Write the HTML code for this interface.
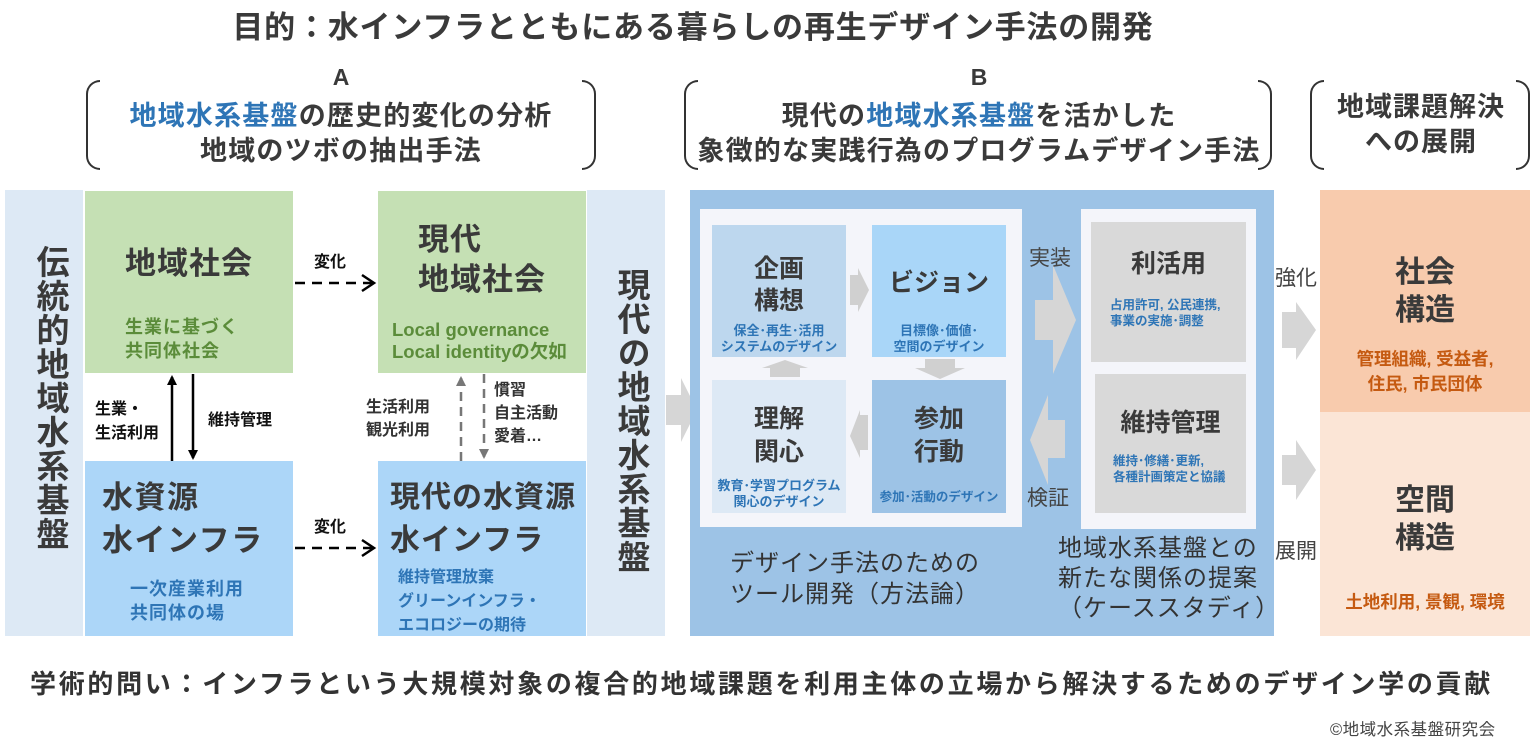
<!DOCTYPE html>
<html><head><meta charset="utf-8"><style>
*{margin:0;padding:0;box-sizing:border-box}
body{width:1536px;height:749px;background:#fff;position:relative;overflow:hidden;font-family:"Liberation Sans","Noto Sans CJK JP",sans-serif;color:#3a3a3a;font-weight:bold}
div{position:absolute}
.c{text-align:center;white-space:nowrap}
.n{white-space:nowrap}
.bl{border:2px solid #333;border-right:none;border-radius:14px 0 0 14px;width:14px}
.br{border:2px solid #333;border-left:none;border-radius:0 14px 14px 0;width:14px}
.v{writing-mode:vertical-rl;text-orientation:upright;font-size:33px;letter-spacing:1px}
.blue{color:#2e75b6}
.green{color:#5b8c3a}
.or{color:#c55a11}
</style></head><body>
<div class="c" style="left:0;width:1386px;top:8px;font-size:31px;letter-spacing:0.8px;line-height:40px">目的：水インフラとともにある暮らしの再生デザイン手法の開発</div>

<!-- brackets -->
<div class="bl" style="left:86px;top:80px;height:90px"></div>
<div class="br" style="left:582px;top:80px;height:90px"></div>
<div class="c" style="left:86px;width:510px;top:64px;font-size:23px">A</div>
<div class="c" style="left:86px;width:510px;top:99px;font-size:27px;letter-spacing:1.2px;line-height:35px"><span class="blue">地域水系基盤</span>の歴史的変化の分析<br>地域のツボの抽出手法</div>

<div class="bl" style="left:684px;top:80px;height:90px"></div>
<div class="br" style="left:1258px;top:80px;height:90px"></div>
<div class="c" style="left:684px;width:590px;top:64px;font-size:23px">B</div>
<div class="c" style="left:684px;width:590px;top:99px;font-size:27px;letter-spacing:1.2px;line-height:35px">現代の<span class="blue">地域水系基盤</span>を活かした<br>象徴的な実践行為のプログラムデザイン手法</div>

<div class="bl" style="left:1310px;top:80px;height:90px"></div>
<div class="br" style="left:1516px;top:80px;height:90px"></div>
<div class="c" style="left:1310px;width:222px;top:90px;font-size:27px;letter-spacing:1px;line-height:35px">地域課題解決<br>への展開</div>

<!-- left -->
<div style="left:5px;top:190px;width:78px;height:446px;background:#dde9f5"></div>
<div class="v" style="left:26px;top:245px">伝統的地域水系基盤</div>

<div style="left:85px;top:191px;width:208px;height:182px;background:#c5e0b4"></div>
<div class="n" style="left:125px;top:238px;font-size:31px;letter-spacing:1px">地域社会</div>
<div class="n green" style="left:125px;top:315px;font-size:18px;letter-spacing:1px;line-height:24px">生業に基づく<br>共同体社会</div>

<div style="left:85px;top:461px;width:208px;height:175px;background:#acd6f8"></div>
<div class="n" style="left:102px;top:476px;font-size:31px;letter-spacing:1.5px;line-height:43px">水資源<br>水インフラ</div>
<div class="n blue" style="left:130px;top:577px;font-size:18px;letter-spacing:1px;line-height:24px">一次産業利用<br>共同体の場</div>

<svg style="position:absolute;left:0;top:0" width="1536" height="749">
<defs>
<marker id="ab" markerWidth="10" markerHeight="10" refX="8" refY="5" orient="auto" markerUnits="userSpaceOnUse"><path d="M0,0 L10,5 L0,10 z" fill="#000"/></marker>
<marker id="ag" markerWidth="10" markerHeight="10" refX="8" refY="5" orient="auto" markerUnits="userSpaceOnUse"><path d="M0,0 L10,5 L0,10 z" fill="#777"/></marker>
</defs>
<line x1="172" y1="461" x2="172" y2="377" stroke="#000" stroke-width="2.5" marker-end="url(#ab)"/>
<line x1="193" y1="374" x2="193" y2="458" stroke="#000" stroke-width="2.5" marker-end="url(#ab)"/>
<line x1="295" y1="283" x2="372" y2="283" stroke="#000" stroke-width="2.5" stroke-dasharray="10,7"/>
<path d="M362,275 L374,283 L362,291" fill="none" stroke="#000" stroke-width="2.5"/>
<line x1="295" y1="548" x2="372" y2="548" stroke="#000" stroke-width="2.5" stroke-dasharray="10,7"/>
<path d="M362,540 L374,548 L362,556" fill="none" stroke="#000" stroke-width="2.5"/>
<line x1="461" y1="461" x2="461" y2="378" stroke="#777" stroke-width="2.5" stroke-dasharray="9,6" marker-end="url(#ag)"/>
<line x1="484" y1="374" x2="484" y2="457" stroke="#777" stroke-width="2.5" stroke-dasharray="9,6" marker-end="url(#ag)"/>
<path d="M666,395 L681,395 L681,378 L697,410 L681,442 L681,425 L666,425 z" fill="#d6d6d6"/>
<path d="M1282,312 L1296,312 L1296,302 L1316,330 L1296,360 L1296,348 L1282,348 z" fill="#d6d6d6"/>
<path d="M1282,455 L1296,455 L1296,440 L1316,470 L1296,500 L1296,485 L1282,485 z" fill="#d6d6d6"/>
</svg>
<div class="n" style="left:95px;top:398px;font-size:16px;line-height:24px;color:#111">生業・<br>生活利用</div>
<div class="n" style="left:208px;top:406px;font-size:16px;color:#111">維持管理</div>
<div class="n" style="left:314px;top:248px;font-size:16px;color:#111">変化</div>
<div class="n" style="left:314px;top:513px;font-size:16px;color:#111">変化</div>

<div style="left:378px;top:191px;width:208px;height:182px;background:#c5e0b4"></div>
<div class="n" style="left:418px;top:220px;font-size:31px;letter-spacing:1px;line-height:40px">現代<br>地域社会</div>
<div class="n green" style="left:392px;top:319px;font-size:18.5px;line-height:22px">Local governance<br>Local identityの欠如</div>

<div class="n" style="left:366px;top:396px;font-size:16px;line-height:23px;color:#333">生活利用<br>観光利用</div>
<div class="n" style="left:494px;top:379px;font-size:16px;line-height:23px;color:#333">慣習<br>自主活動<br>愛着…</div>

<div style="left:378px;top:461px;width:208px;height:175px;background:#acd6f8"></div>
<div class="n" style="left:390px;top:476px;font-size:30px;letter-spacing:1px;line-height:43px">現代の水資源<br>水インフラ</div>
<div class="n blue" style="left:398px;top:566px;font-size:16px;line-height:24px">維持管理放棄<br>グリーンインフラ・<br>エコロジーの期待</div>

<div style="left:587px;top:190px;width:78px;height:446px;background:#dde9f5"></div>
<div class="v" style="left:607px;top:268px">現代の地域水系基盤</div>

<!-- B panel -->
<div style="left:690px;top:190px;width:584px;height:446px;background:#9dc3e6"></div>
<div style="left:700px;top:209px;width:322px;height:318px;background:#f4f5fa"></div>
<div style="left:712px;top:225px;width:134px;height:132px;background:#bdd7ee"></div>
<div style="left:872px;top:225px;width:134px;height:132px;background:#a9d6f8"></div>
<div style="left:712px;top:380px;width:134px;height:133px;background:#dde9f5"></div>
<div style="left:872px;top:380px;width:134px;height:133px;background:#9dc3e6"></div>
<div style="left:1081px;top:209px;width:175px;height:320px;background:#f4f5fa"></div>
<div style="left:1091px;top:222px;width:155px;height:140px;background:#d9d9d9"></div>
<div style="left:1095px;top:374px;width:151px;height:139px;background:#d9d9d9"></div>
<svg style="position:absolute;left:0;top:0" width="1536" height="749">
<path d="M850,275 L858,275 L858,268 L869,290 L858,312 L858,305 L850,305 z" fill="#d0d0d0"/>
<path d="M770,377 L770,368 L762,368 L785,360 L808,368 L800,368 L800,377 z" fill="#d0d0d0"/>
<path d="M925,359 L955,359 L955,368 L965,368 L940,379 L915,368 L925,368 z" fill="#d0d0d0"/>
<path d="M868,415 L868,450 L860,450 L860,458 L850,436 L860,410 L860,415 z" fill="#d0d0d0"/>
<path d="M1035,300 L1053,300 L1053,265 L1076,320 L1053,374 L1053,340 L1035,340 z" fill="#d6d6d6"/>
<path d="M1065,420 L1048,420 L1048,395 L1030,440 L1048,485 L1048,458 L1065,458 z" fill="#d6d6d6"/>
</svg>
<div class="c" style="left:712px;width:134px;top:253px;font-size:25px;line-height:32px">企画<br>構想</div>
<div class="c blue" style="left:712px;width:134px;top:323px;font-size:13px;line-height:16px">保全･再生･活用<br>システムのデザイン</div>
<div class="c" style="left:872px;width:134px;top:263px;font-size:25px">ビジョン</div>
<div class="c blue" style="left:872px;width:134px;top:323px;font-size:13px;line-height:16px">目標像･価値･<br>空間のデザイン</div>
<div class="c" style="left:712px;width:134px;top:403px;font-size:25px;line-height:33px">理解<br>関心</div>
<div class="c blue" style="left:712px;width:134px;top:478px;font-size:13px;line-height:16px">教育･学習プログラム<br>関心のデザイン</div>
<div class="c" style="left:872px;width:134px;top:403px;font-size:25px;line-height:33px">参加<br>行動</div>
<div class="c blue" style="left:872px;width:134px;top:486px;font-size:12.5px">参加･活動のデザイン</div>

<div class="n" style="left:1029px;top:242px;font-size:21px;font-weight:normal;color:#444">実装</div>
<div class="n" style="left:1027px;top:482px;font-size:21px;font-weight:normal;color:#444">検証</div>

<div class="c" style="left:1091px;width:155px;top:244px;font-size:25px">利活用</div>
<div class="n blue" style="left:1110px;top:297px;font-size:12.5px;line-height:16px">占用許可, 公民連携,<br>事業の実施･調整</div>
<div class="c" style="left:1095px;width:151px;top:403px;font-size:25px">維持管理</div>
<div class="n blue" style="left:1113px;top:453px;font-size:12.5px;line-height:16px">維持･修繕･更新,<br>各種計画策定と協議</div>

<div class="n" style="left:730px;top:548px;font-size:24px;letter-spacing:1px;line-height:31px;font-weight:normal;color:#333">デザイン手法のための<br>ツール開発（方法論）</div>
<div class="n" style="left:1058px;top:534px;font-size:24px;letter-spacing:1px;line-height:30px;font-weight:normal;color:#333">地域水系基盤との<br>新たな関係の提案<br>（ケーススタディ）</div>

<div class="n" style="left:1275px;top:262px;font-size:21px;font-weight:normal;color:#444">強化</div>
<div class="n" style="left:1275px;top:535px;font-size:21px;font-weight:normal;color:#444">展開</div>

<div style="left:1320px;top:190px;width:210px;height:222px;background:#f8cbad"></div>
<div style="left:1320px;top:412px;width:210px;height:224px;background:#fbe5d6"></div>
<div class="c" style="left:1320px;width:210px;top:254px;font-size:30px;line-height:38px">社会<br>構造</div>
<div class="c or" style="left:1320px;width:210px;top:347px;font-size:17.5px;line-height:25px">管理組織, 受益者,<br>住民, 市民団体</div>
<div class="c" style="left:1320px;width:210px;top:482px;font-size:30px;line-height:38px">空間<br>構造</div>
<div class="c or" style="left:1320px;width:210px;top:589px;font-size:17.5px">土地利用, 景観, 環境</div>

<div class="n" style="left:30px;top:664px;font-size:26px;letter-spacing:2.7px;color:#333">学術的問い：インフラという大規模対象の複合的地域課題を利用主体の立場から解決するためのデザイン学の貢献</div>
<div class="n" style="left:1330px;top:716px;font-size:16.5px;letter-spacing:0.5px;font-weight:normal;color:#444">©地域水系基盤研究会</div>
</body></html>
